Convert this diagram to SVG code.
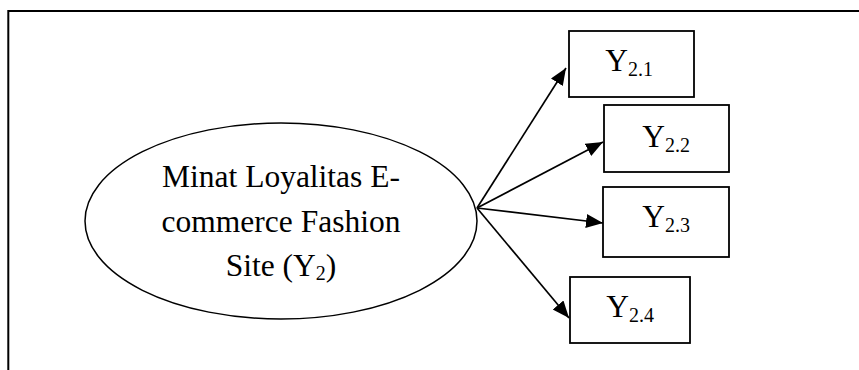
<svg xmlns="http://www.w3.org/2000/svg" width="859" height="370" viewBox="0 0 859 370">
<style>
.frame{fill:none;stroke:#000;stroke-width:2}
.box{fill:#fff;stroke:#000;stroke-width:1.8}
.ell{fill:#fff;stroke:#000;stroke-width:1.5}
.lbl{font-family:"Liberation Serif","Times New Roman",serif;font-size:31.5px;fill:#000}
.sub{font-size:20px}
.conn{fill:none;stroke:#000;stroke-width:1.7}
</style>
<defs>
<marker id="ah" markerUnits="userSpaceOnUse" markerWidth="18" markerHeight="16" refX="17" refY="7" orient="auto">
<path d="M0,0 L17,7 L0,14 z" fill="#000"/>
</marker>
</defs>
<path class="frame" d="M8.3,370 L8.3,11 L859,11"/>
<g id="latent">
<ellipse class="ell" cx="281" cy="221" rx="196" ry="98"/>
<text class="lbl" text-anchor="middle"><tspan x="281" y="187">Minat Loyalitas E-</tspan><tspan x="281" y="232">commerce Fashion</tspan><tspan x="281" y="276">Site (Y<tspan class="sub" dy="4">2</tspan><tspan dy="-4">)</tspan></tspan></text>
</g>
<g id="y21">
<rect class="box" x="569" y="31" width="125" height="66"/>
<text class="lbl" x="629" y="71" text-anchor="middle">Y<tspan class="sub" dy="4.5">2.1</tspan></text>
</g>
<g id="y22">
<rect class="box" x="604" y="105" width="125" height="67"/>
<text class="lbl" x="666" y="147" text-anchor="middle">Y<tspan class="sub" dy="4.5">2.2</tspan></text>
</g>
<g id="y23">
<rect class="box" x="603" y="187" width="126" height="70"/>
<text class="lbl" x="666" y="227" text-anchor="middle">Y<tspan class="sub" dy="4.5">2.3</tspan></text>
</g>
<g id="y24">
<rect class="box" x="570" y="277" width="120" height="66"/>
<text class="lbl" x="630" y="317" text-anchor="middle">Y<tspan class="sub" dy="4.5">2.4</tspan></text>
</g>
<g id="connectors">
<line class="conn" x1="477" y1="208" x2="566" y2="68" marker-end="url(#ah)"/>
<line class="conn" x1="477" y1="208" x2="603" y2="142" marker-end="url(#ah)"/>
<line class="conn" x1="477" y1="208" x2="603" y2="223" marker-end="url(#ah)"/>
<line class="conn" x1="477" y1="208" x2="569" y2="318" marker-end="url(#ah)"/>
</g>
</svg>
